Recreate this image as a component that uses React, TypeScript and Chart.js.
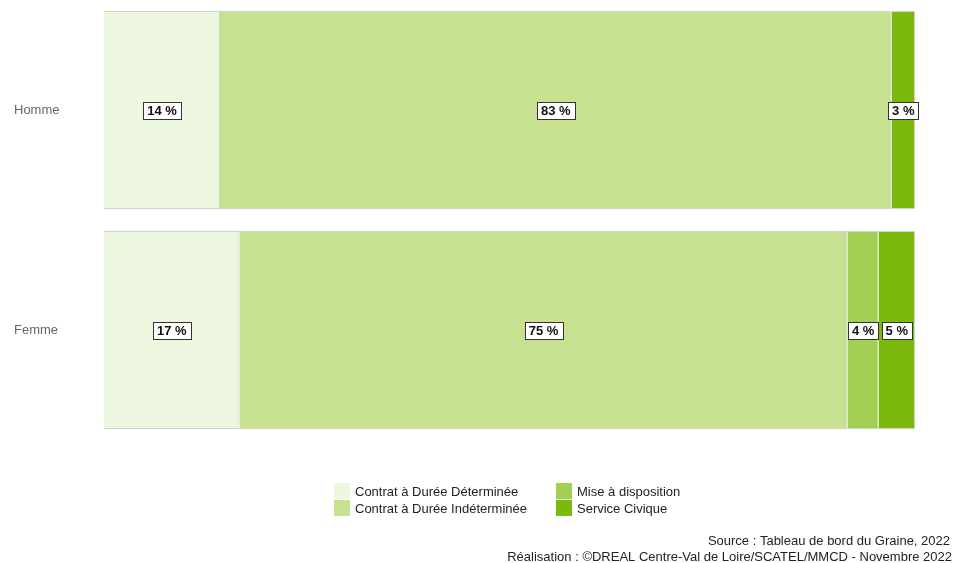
import React, { useEffect, useRef } from "react";
import { Chart, registerables } from "chart.js";

Chart.register(...registerables);

const categories = ["Homme", "Femme"];
const seriesNames = [
  "Contrat à Durée Déterminée",
  "Contrat à Durée Indéterminée",
  "Mise à disposition",
  "Service Civique",
];
const cdd = [14.3, 16.7];
const cdi = [82.8, 75.0];
const mise = [0, 3.8];
const civique = [2.9, 4.5];
const seriesColors = ["#edf6df", "#c6e190", "#a4cf55", "#7cb90f"];
const sourceLines = [
  "Source : Tableau de bord du Graine, 2022",
  "Réalisation : ©DREAL Centre-Val de Loire/SCATEL/MMCD - Novembre 2022",
];

const labelPlugin = {
  id: "segLabels",
  afterDatasetsDraw(chart: any) {
    const ctx = chart.ctx;
    ctx.save();
    ctx.font = "bold 13px Arial, 'Liberation Sans', sans-serif";
    ctx.textAlign = "center";
    ctx.textBaseline = "middle";
    chart.data.datasets.forEach((ds: any, di: number) => {
      const meta = chart.getDatasetMeta(di);
      meta.data.forEach((el: any, i: number) => {
        const v = ds.data[i];
        if (!v) return;
        const txt = Math.round(v) + " %";
        const cx = (el.x + el.base) / 2;
        const cy = el.y;
        const w = Math.round(ctx.measureText(txt).width + 8);
        const h = 17;
        const bx = Math.round(cx - w / 2) + 0.5;
        const by = Math.round(cy - h / 2) + 0.5;
        ctx.fillStyle = "#ffffff";
        ctx.fillRect(bx, by, w, h);
        ctx.strokeStyle = "#333333";
        ctx.lineWidth = 1;
        ctx.strokeRect(bx, by, w, h);
        ctx.fillStyle = "#111111";
        ctx.fillText(txt, cx, cy + 1);
      });
    });
    ctx.restore();
  },
};

const legendPlugin = {
  id: "customLegend",
  afterDraw(chart: any) {
    const ctx = chart.ctx;
    ctx.save();
    ctx.font = "13px Arial, 'Liberation Sans', sans-serif";
    ctx.textBaseline = "middle";
    ctx.textAlign = "left";
    const cols = [334, 556];
    const rows = [491, 508];
    const order = [
      [0, 0, 0],
      [1, 0, 1],
      [2, 1, 0],
      [3, 1, 1],
    ];
    order.forEach(([si, c, r]) => {
      const x = cols[c];
      const y = rows[r];
      ctx.fillStyle = seriesColors[si];
      ctx.fillRect(x, y - 8, 16, 16);
      ctx.fillStyle = "#222222";
      ctx.fillText(seriesNames[si], x + 21, y + 1);
    });
    ctx.textAlign = "right";
    ctx.fillStyle = "#222222";
    ctx.fillText(sourceLines[0], 950, 541);
    ctx.fillText(sourceLines[1], 952, 557);
    ctx.restore();
  },
};

export default function App() {
  const ref = useRef<HTMLCanvasElement | null>(null);
  useEffect(() => {
    document.body.style.margin = "0";
    const canvas = ref.current;
    if (!canvas) return;
    const data = [cdd, cdi, mise, civique];
    const chart = new Chart(canvas, {
      type: "bar",
      data: {
        labels: categories,
        datasets: seriesNames.map((name, i) => ({
          label: name,
          data: data[i],
          backgroundColor: seriesColors[i],
          borderColor: "rgba(200,210,185,0.9)",
          borderWidth: 1,
          barPercentage: 0.9,
          categoryPercentage: 1,
        })),
      },
      options: {
        indexAxis: "y",
        responsive: false,
        animation: false,
        layout: { padding: { top: 0, bottom: 123, right: 38, left: 14 } },
        plugins: {
          legend: { display: false },
          tooltip: { enabled: false },
        },
        scales: {
          x: { stacked: true, display: false, min: 0, max: 100 },
          y: {
            stacked: true,
            grid: { display: false, drawTicks: false },
            border: { display: false },
            ticks: {
              color: "#666666",
              padding: -12,
              crossAlign: "far",
              font: { family: "Arial, 'Liberation Sans', sans-serif", size: 13 },
            },
            afterFit: (axis: any) => {
              axis.width = 90;
            },
          },
        },
      },
      plugins: [labelPlugin, legendPlugin],
    });
    return () => chart.destroy();
  }, []);
  return (
    <div style={{ width: 953, height: 563, background: "#ffffff" }}>
      <canvas ref={ref} width={953} height={563} />
    </div>
  );
}
